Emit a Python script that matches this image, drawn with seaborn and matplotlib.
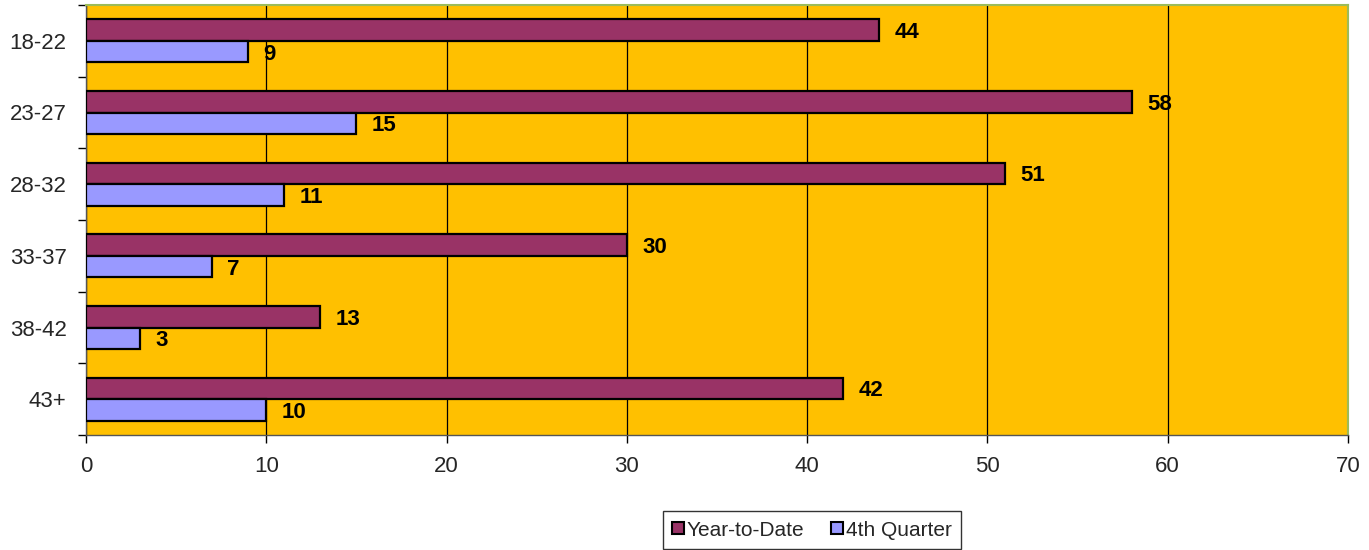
import matplotlib
matplotlib.use("Agg")
import matplotlib.pyplot as plt
import seaborn as sns
import pandas as pd
import numpy as np
from matplotlib.patches import Patch

categories = ["18-22", "23-27", "28-32", "33-37", "38-42", "43+"]
year_to_date = [44, 58, 51, 30, 13, 42]
fourth_quarter = [9, 15, 11, 7, 3, 10]
series_names = ["Year-to-Date", "4th Quarter"]
x_ticks = [0, 10, 20, 30, 40, 50, 60, 70]

df = pd.DataFrame({
    "Age": categories * 2,
    "Value": year_to_date + fourth_quarter,
    "Series": [series_names[0]] * len(categories) + [series_names[1]] * len(categories),
})

sns.set_style("white")
plt.rcParams["font.family"] = ["Liberation Sans", "DejaVu Sans"]

colors = {"Year-to-Date": "#993366", "4th Quarter": "#9999FF"}

fig = plt.figure(figsize=(13.69, 5.5), dpi=100)
ax = fig.add_axes([86 / 1369, 1 - 435 / 550, (1348 - 86) / 1369, 430 / 550])
ax.set_facecolor("#FFC000")

sns.barplot(data=df, y="Age", x="Value", hue="Series", order=categories,
            hue_order=series_names, palette=colors, orient="h", width=0.6,
            edgecolor="black", linewidth=1.6, saturation=1, ax=ax, legend=False,
            zorder=3)

ax.set_xlim(0, 70)
ax.set_ylim(len(categories) - 0.5, -0.5)
ax.set_xticks(x_ticks)
ax.set_xticklabels([str(t) for t in x_ticks], fontsize=16)
ax.set_yticks(range(len(categories)))
ax.set_yticklabels(categories, fontsize=16)
ax.set_yticks(np.arange(-0.5, len(categories), 1.0), minor=True)
ax.tick_params(axis="y", which="major", length=0, pad=14)
ax.tick_params(axis="y", which="minor", length=6, width=1, color="black", left=True)
ax.tick_params(axis="x", which="major", length=6, width=1, color="black", bottom=True, pad=9)
ax.set_xlabel("")
ax.set_ylabel("")

ax.grid(axis="x", color="black", linewidth=0.9, zorder=1)
ax.set_axisbelow(True)

for side in ["top", "right"]:
    ax.spines[side].set_color("#9BBB59")
    ax.spines[side].set_linewidth(1.5)
for side in ["left", "bottom"]:
    ax.spines[side].set_color("#555555")
    ax.spines[side].set_linewidth(1.0)

# value labels
for container, vals in zip(ax.containers, [year_to_date, fourth_quarter]):
    for bar, v in zip(container, vals):
        y = bar.get_y() + bar.get_height() / 2
        ax.annotate(str(v), xy=(bar.get_width(), y), xytext=(11, 0),
                    textcoords="offset points", ha="left", va="center_baseline",
                    fontsize=16, fontweight="bold", color="black", zorder=5)

handles = [Patch(facecolor=colors[s], edgecolor="black", linewidth=1.5, label=s)
           for s in series_names]
leg = fig.legend(handles=handles, loc="center", bbox_to_anchor=(812 / 1369, 1 - 530 / 550),
                 ncol=2, frameon=True, fancybox=False, fontsize=15,
                 handlelength=0.55, handleheight=0.55, handletextpad=0.15,
                 columnspacing=1.3, borderpad=0.45)
leg.get_frame().set_edgecolor("black")
leg.get_frame().set_linewidth(1.0)

fig.savefig("out.png", dpi=100)
